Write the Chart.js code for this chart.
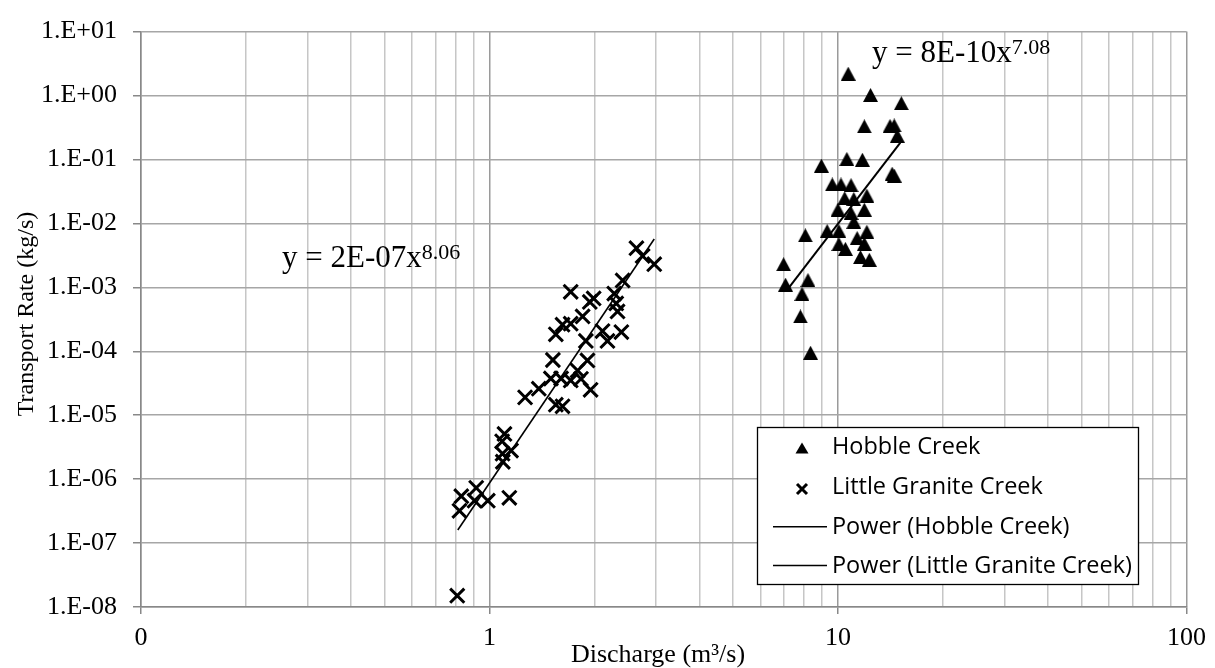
<!DOCTYPE html>
<html><head><meta charset="utf-8">
<script src="https://cdn.jsdelivr.net/npm/chart.js@4.4.1/dist/chart.umd.min.js"></script>
<style>html,body{margin:0;padding:0;background:#fff;}canvas{display:block;}</style>
</head><body>
<canvas id="c" width="1215" height="668"></canvas>
<script>
// ---- data ----
const hobbleDischarge = [10.7, 12.4, 15.2, 11.9, 14.1, 14.5, 14.8,
  8.96, 10.6, 11.75, 14.5, 14.3,
  9.63, 10.2, 10.9, 10.45, 11.1, 12.1,
  10.0, 10.9, 11.9, 11.1, 9.31, 10.06, 12.1, 11.35, 10.06, 10.5, 11.6, 12.3, 11.9,
  8.06, 6.98, 7.07, 8.2, 7.88, 7.8, 8.34];
const hobbleRate = [2.2, 1.02, 0.76, 0.33, 0.335, 0.34, 0.235,
  0.080, 0.102, 0.099, 0.056, 0.060,
  0.0406, 0.0406, 0.0396, 0.0247, 0.0241, 0.0272,
  0.0164, 0.0146, 0.0164, 0.0106, 0.0076, 0.0076, 0.0074, 0.0059, 0.00476, 0.0040, 0.00297, 0.0027, 0.0048,
  0.0065, 0.0023, 0.0011, 0.0013, 0.00079, 0.00035, 0.000095];

const lgcDischarge = [0.808, 0.82, 0.83, 0.916, 0.906, 0.989, 1.14,
  1.104, 1.087, 1.153, 1.092, 1.09,
  1.265, 1.385, 1.50, 1.52, 1.55, 1.62, 1.605, 1.71, 1.79, 1.83, 1.91, 1.95,
  1.55, 1.62, 1.71, 1.71, 1.85, 1.89, 1.94, 1.99, 2.11, 2.18, 2.28, 2.31, 2.33, 2.39, 2.41, 2.64, 2.75, 2.97];
const lgcRate = [1.5e-8, 3.2e-7, 5.4e-7, 7.3e-7, 4.6e-7, 4.6e-7, 5.1e-7,
  5.1e-6, 3.9e-6, 2.8e-6, 1.87e-6, 2.5e-6,
  1.9e-5, 2.6e-5, 3.75e-5, 7.3e-5, 1.46e-5, 1.38e-5, 3.75e-5, 3.5e-5, 5.0e-5, 3.7e-5, 7.2e-5, 2.5e-5,
  1.84e-4, 2.6e-4, 2.7e-4, 8.5e-4, 3.5e-4, 1.45e-4, 5.9e-4, 6.7e-4, 2.07e-4, 1.45e-4, 8.0e-4, 5.6e-4, 4.2e-4, 2.0e-4, 1.28e-3, 4.1e-3, 3.1e-3, 2.3e-3];

// power trend lines (end points)
const hobbleTrendQ = [7.24, 15.1];
const hobbleTrendRate = [1.0e-3, 0.183];
const lgcTrendQ = [0.811, 2.97];
const lgcTrendRate = [1.6e-7, 5.7e-3];

// ticks
const xMajorTicks = [0.1, 1, 10, 100];
const xTickLabels = ['0', '1', '10', '100'];
const xMinorSteps = [2, 3, 4, 5, 6, 7, 8, 9];
const yTickValues = [1e-8, 1e-7, 1e-6, 1e-5, 1e-4, 1e-3, 1e-2, 1e-1, 1, 10];
const yTickLabels = ['1.E-08', '1.E-07', '1.E-06', '1.E-05', '1.E-04', '1.E-03', '1.E-02', '1.E-01', '1.E+00', '1.E+01'];

const seriesNames = ['Hobble Creek', 'Little Granite Creek', 'Power (Hobble Creek)', 'Power (Little Granite Creek)'];
const eqHobble = ['y = 8E-10x', '7.08'];
const eqLgc = ['y = 2E-07x', '8.06'];
const xTitle = 'Discharge (m³/s)';
const yTitle = 'Transport Rate (kg/s)';

// ---- styling ----
const serif = '"Liberation Serif", "Times New Roman", serif';
const sans = '"Open Sans", "Noto Sans", sans-serif';

function triImg(w, h) {
  const c = document.createElement('canvas'); c.width = w; c.height = h;
  const g = c.getContext('2d'); g.fillStyle = '#000';
  g.beginPath(); g.moveTo(w / 2, 0); g.lineTo(w, h); g.lineTo(0, h); g.closePath(); g.fill();
  return c;
}
const tri = triImg(15, 14);

const xGridValues = [];
xMajorTicks.forEach((m, i) => {
  xGridValues.push(m);
  if (i < xMajorTicks.length - 1) xMinorSteps.forEach(s => xGridValues.push(+(m * s).toPrecision(6)));
});
const isMajorX = v => xMajorTicks.some(m => Math.abs(m - v) / m < 1e-6);

const pts = (xs, ys) => xs.map((x, i) => ({ x: x, y: ys[i] }));

const overlay = {
  id: 'overlay',
  afterDraw(chart) {
    const ctx = chart.ctx;
    ctx.save();
    ctx.fillStyle = '#000';
    // axis titles
    ctx.font = '26px ' + serif;
    ctx.textAlign = 'center'; ctx.textBaseline = 'alphabetic';
    ctx.fillText(xTitle, 658, 662);
    ctx.save();
    ctx.translate(33, 314); ctx.rotate(-Math.PI / 2);
    ctx.font = '24px ' + serif;
    ctx.fillText(yTitle, 0, 0);
    ctx.restore();
    // equations
    function eq(parts, x, y) {
      ctx.textAlign = 'left';
      ctx.font = '31px ' + serif;
      ctx.fillText(parts[0], x, y);
      const w = ctx.measureText(parts[0]).width;
      ctx.font = '22px ' + serif;
      ctx.fillText(parts[1], x + w, y - 8.5);
    }
    eq(eqHobble, 872, 62);
    eq(eqLgc, 282, 267);
    // legend
    const bx = 757, by = 427, bw = 381, bh = 157;
    ctx.fillStyle = '#fff'; ctx.fillRect(bx, by, bw, bh);
    ctx.strokeStyle = '#000'; ctx.lineWidth = 1.3; ctx.strokeRect(bx + 0.5, by + 0.5, bw, bh);
    ctx.font = '20px ' + sans;
    const fs = 20 * 300 / ctx.measureText(seriesNames[3]).width;
    ctx.font = fs.toFixed(2) + 'px ' + sans;
    ctx.fillStyle = '#000'; ctx.textAlign = 'left';
    const base = [454, 494, 533.5, 573];
    const mid = [448.5, 489, 526.7, 565.5];
    seriesNames.forEach((n, i) => ctx.fillText(n, 832, base[i]));
    ctx.beginPath(); ctx.moveTo(802, mid[0] - 6); ctx.lineTo(808.5, mid[0] + 5); ctx.lineTo(795.5, mid[0] + 5); ctx.closePath(); ctx.fill();
    ctx.lineWidth = 3; ctx.strokeStyle = '#000';
    ctx.beginPath(); ctx.moveTo(797, mid[1] - 5); ctx.lineTo(807, mid[1] + 5); ctx.moveTo(807, mid[1] - 5); ctx.lineTo(797, mid[1] + 5); ctx.stroke();
    ctx.lineWidth = 1.5;
    [2, 3].forEach(i => { ctx.beginPath(); ctx.moveTo(773, mid[i]); ctx.lineTo(827, mid[i]); ctx.stroke(); });
    ctx.restore();
  }
};

new Chart(document.getElementById('c'), {
  type: 'scatter',
  data: {
    datasets: [
      { label: seriesNames[2], data: pts(hobbleTrendQ, hobbleTrendRate), showLine: true, pointRadius: 0, borderColor: '#000', borderWidth: 2, order: 3 },
      { label: seriesNames[3], data: pts(lgcTrendQ, lgcTrendRate), showLine: true, pointRadius: 0, borderColor: '#000', borderWidth: 1.6, order: 4 },
      { label: seriesNames[0], data: pts(hobbleDischarge, hobbleRate), pointStyle: tri, pointRadius: 7, backgroundColor: '#000', borderColor: '#000', order: 1 },
      { label: seriesNames[1], data: pts(lgcDischarge, lgcRate), pointStyle: 'crossRot', pointRadius: 10, borderColor: '#000', borderWidth: 3, pointBorderWidth: 3, order: 2 }
    ]
  },
  options: {
    responsive: false, animation: false, devicePixelRatio: 1,
    layout: { padding: { top: 20, right: 27, left: 0, bottom: 0 } },
    plugins: { legend: { display: false }, tooltip: { enabled: false } },
    scales: {
      x: {
        type: 'logarithmic', min: 0.1, max: 100,
        afterBuildTicks: s => { s.ticks = xGridValues.map(v => ({ value: v, major: isMajorX(v) })); },
        afterFit: s => { s.height = 61; },
        ticks: {
          autoSkip: false, maxRotation: 0, minRotation: 0, padding: 9, color: '#000',
          font: { family: serif, size: 26 },
          callback: v => { const i = xMajorTicks.findIndex(m => Math.abs(m - v) / m < 1e-6); return i >= 0 ? xTickLabels[i] : ''; }
        },
        grid: {
          color: c => (c.tick && isMajorX(c.tick.value)) ? '#9a9a9a' : '#c6c6c6',
          lineWidth: 1.5, tickLength: 7,
          tickColor: c => (c.tick && isMajorX(c.tick.value)) ? '#888' : 'rgba(0,0,0,0)'
        },
        border: { color: '#888', width: 1.5 }
      },
      y: {
        type: 'logarithmic', min: 1e-8, max: 10,
        afterBuildTicks: s => { s.ticks = yTickValues.map(v => ({ value: v, major: true })); },
        afterFit: s => { s.width = 141; },
        ticks: {
          autoSkip: false, padding: 16, color: '#000',
          font: { family: serif, size: 26 },
          callback: v => { const i = yTickValues.findIndex(m => Math.abs(m - v) / m < 1e-6); return i >= 0 ? yTickLabels[i] : ''; }
        },
        grid: { color: '#a6a6a6', lineWidth: 1.5, tickLength: 8, tickColor: '#888' },
        border: { color: '#888', width: 1.5 }
      }
    }
  },
  plugins: [overlay]
});
</script>
</body></html>
